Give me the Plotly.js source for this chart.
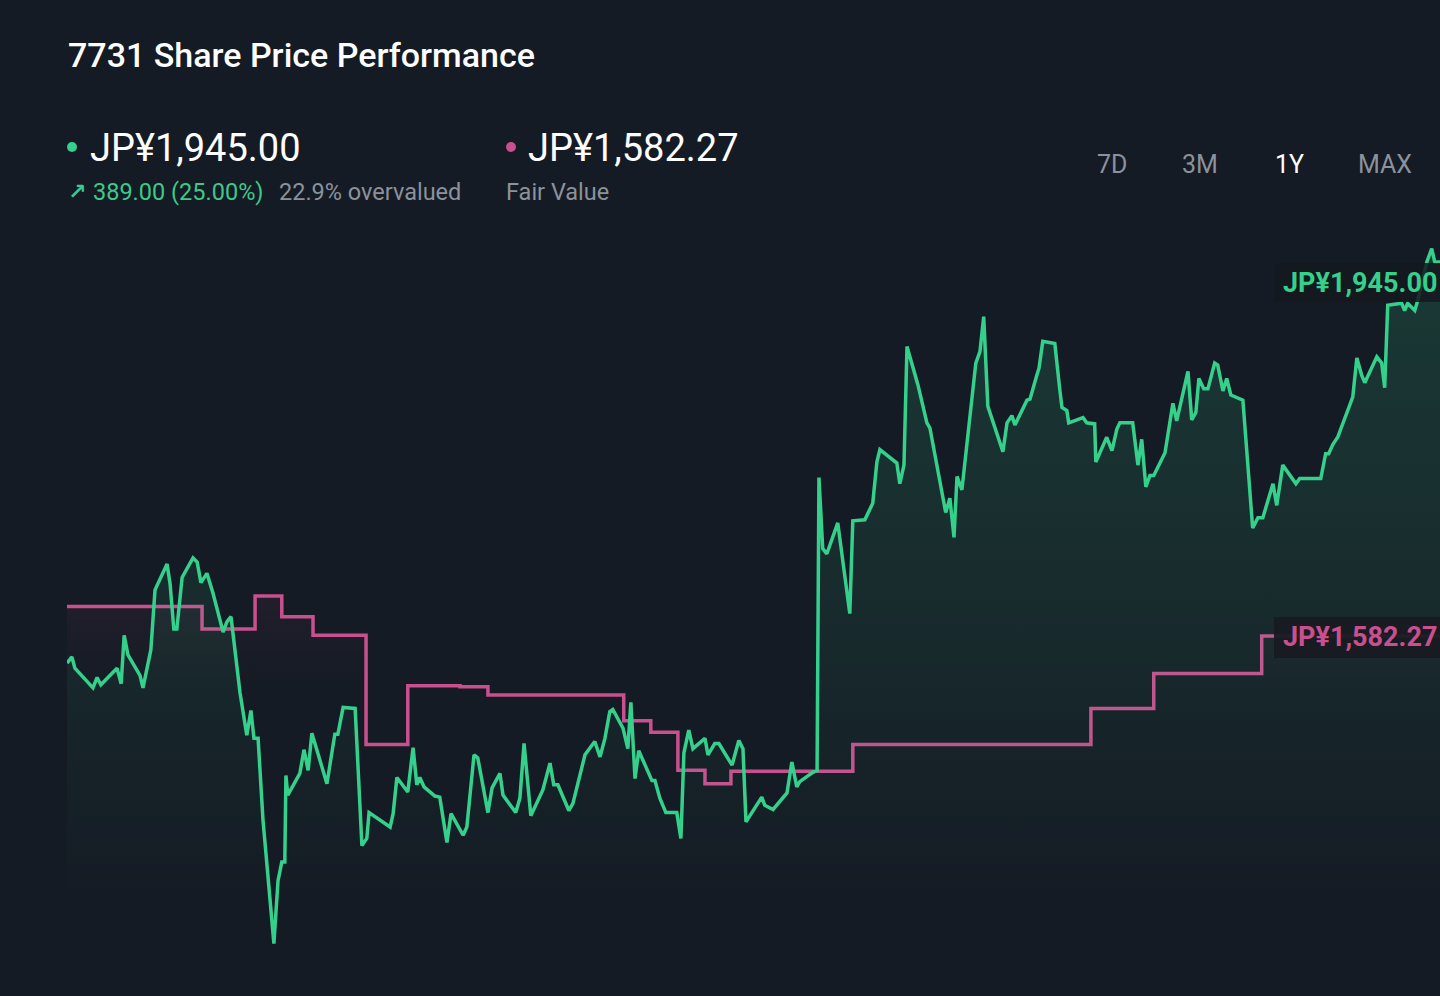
<!DOCTYPE html>
<html>
<head>
<meta charset="utf-8">
<script src="https://cdn.plot.ly/plotly-3.0.1.min.js"></script>
<style>
html,body{margin:0;padding:0;background:#151b24;overflow:hidden}
#chart{width:1440px;height:996px}
</style>
</head>
<body>
<div id="chart"></div>
<script>
// ---- data (days since start of the 1Y window, share price in JPY) ----
const priceDays = [
  0,1.3,2.1,6.9,8.0,9.0,13.3,14.4,15.2,16.2,
  19.4,20.2,22.3,23.4,26.6,27.4,28.4,29.2,30.6,33.5,
  34.6,35.6,37.2,38.8,41.5,42.5,43.6,44.1,45.2,46.0,
  47.8,48.9,49.7,50.8,52.1,55.0,56.1,57.1,57.9,58.2,
  58.7,61.9,63.0,64.1,65.1,69.1,71.2,72.0,73.4,76.6,
  78.4,79.7,80.3,85.9,86.7,87.7,90.6,92.0,93.0,93.8,
  94.9,97.8,99.1,101.0,102.1,105.3,106.3,108.2,109.2,111.9,
  113.0,115.1,115.9,119.3,120.4,121.5,123.3,126.5,128.4,129.4,
  130.5,133.4,134.5,137.7,140.3,141.7,143.0,144.3,145.1,147.8,
  149.1,149.9,151.0,152.0,155.5,156.3,157.6,159.2,162.1,163.2,
  164.0,165.3,166.4,169.6,170.4,172.2,173.3,176.8,178.6,179.7,
  180.5,184.7,185.5,187.7,191.4,192.7,194.0,194.8,198.3,199.4,
  199.9,200.9,202.0,204.9,208.1,208.9,212.1,214.2,215.3,216.1,
  220.6,221.4,222.5,223.3,226.2,228.6,229.4,233.6,234.7,235.8,
  236.6,237.9,241.6,242.7,243.7,244.8,248.8,249.9,251.2,252.0,
  255.2,256.0,257.8,258.4,259.4,262.6,263.9,264.5,265.8,266.3,
  270.1,271.1,273.2,273.5,276.4,277.8,279.1,279.9,283.3,284.7,
  285.7,286.8,287.9,288.9,291.9,294.0,295.0,298.0,299.0,300.1,
  300.9,302.2,303.3,305.1,305.9,307.3,308.3,309.4,312.6,315.2,
  316.6,317.9,320.6,321.6,323.2,326.7,327.7,333.3,334.6,335.4,
  336.5,337.8,341.8,342.9,344.2,345.0,348.2,349.5,350.3,351.1,
  354.8,355.6,356.4,358.3,359.1,361.5,362.8,363.6,366.3
];
const priceValues = [
  1556,1562,1551,1532,1542,1535,1551,1536,1583,1564,
  1544,1532,1569,1627,1652,1633,1589,1589,1639,1658,
  1654,1634,1643,1624,1586,1596,1601,1585,1546,1527,
  1486,1510,1483,1483,1404,1284,1345,1363,1363,1447,
  1428,1449,1472,1452,1488,1439,1487,1487,1513,1512,
  1379,1386,1411,1397,1410,1445,1431,1474,1438,1445,
  1436,1427,1426,1382,1410,1389,1397,1467,1464,1411,
  1435,1449,1428,1411,1425,1478,1408,1433,1459,1438,
  1438,1413,1420,1467,1480,1465,1483,1509,1511,1493,
  1473,1518,1444,1471,1442,1442,1425,1411,1411,1386,
  1469,1491,1473,1483,1467,1478,1478,1457,1481,1473,
  1402,1426,1418,1414,1430,1460,1436,1441,1450,1452,
  1736,1667,1662,1692,1604,1694,1695,1711,1751,1763,
  1750,1730,1748,1863,1826,1789,1784,1702,1716,1678,
  1737,1724,1847,1858,1892,1805,1761,1789,1796,1787,
  1811,1812,1835,1842,1868,1866,1822,1804,1801,1789,
  1794,1789,1788,1751,1775,1762,1783,1789,1789,1748,
  1773,1727,1738,1738,1760,1808,1791,1839,1792,1799,
  1832,1822,1822,1847,1845,1820,1832,1816,1811,1687,
  1697,1697,1730,1709,1748,1730,1735,1735,1759,1759,
  1768,1775,1814,1852,1835,1828,1853,1847,1823,1903,
  1905,1898,1905,1898,1908,1945,1958,1945,1945
];
const fairDays = [0,35.9,50.0,57.1,65.4,79.5,90.6,104.5,111.9,148.0,155.2,162.4,169.6,176.5,208.9,272.2,288.9,317.6,366.3];
const fairValues = [1611,1589,1621,1601,1583,1477,1534,1533,1525,1500,1489,1452,1439,1451,1477,1512,1546,1582.27,1582.27];

const titleText = '7731 Share Price Performance';
const lastPriceText = 'JP¥1,945.00';
const fairValueText = 'JP¥1,582.27';
const changeArrow = '↗';
const changeText = '389.00 (25.00%)';
const valuationText = '22.9% overvalued';
const fairLabel = 'Fair Value';
const rangeButtons = ['7D', '3M', '1Y', 'MAX'];
const activeButton = '1Y';

// ---- style ----
const W = 1440, H = 996;
const BG = '#151b24';
const GREEN = '#34d08c';
const PINK = '#c8508f';
const GRAY = '#8b929b';
const px = x => x / W;
const py = y => 1 - y / H;

const traces = [
  {
    x: fairDays, y: fairValues, type: 'scatter', mode: 'lines',
    line: {color: PINK, width: 3.5, shape: 'hv'},
    fill: 'tozeroy',
    fillgradient: {type: 'vertical', start: 1535, stop: 1625,
      colorscale: [[0, 'rgba(200,80,143,0)'], [1, 'rgba(200,80,143,0.07)']]},
    hoverinfo: 'skip'
  },
  {
    x: priceDays, y: priceValues, type: 'scatter', mode: 'lines',
    line: {color: GREEN, width: 3.5, shape: 'linear'},
    fill: 'tozeroy',
    fillgradient: {type: 'vertical', start: 1330, stop: 1960,
      colorscale: [[0, 'rgba(52,208,140,0)'], [0.35, 'rgba(52,208,140,0.07)'], [1, 'rgba(52,208,140,0.17)']]},
    hoverinfo: 'skip'
  }
];

const annotations = [
  {text: titleText, x: px(66), y: py(55), xanchor: 'left', yanchor: 'middle',
   font: {size: 34, color: '#ffffff', weight: 500}},
  {text: lastPriceText, x: px(88), y: py(148), xanchor: 'left', yanchor: 'middle',
   font: {size: 38, color: '#ffffff'}},
  {text: '<b>' + changeArrow + '</b>', x: px(66), y: py(192), xanchor: 'left', yanchor: 'middle',
   font: {size: 22, color: '#3cc98b', family: '"DejaVu Sans", sans-serif'}},
  {text: changeText, x: px(91), y: py(192), xanchor: 'left', yanchor: 'middle',
   font: {size: 23.5, color: '#3cc98b'}},
  {text: valuationText, x: px(277), y: py(192), xanchor: 'left', yanchor: 'middle',
   font: {size: 23.5, color: GRAY}},
  {text: fairValueText, x: px(526), y: py(148), xanchor: 'left', yanchor: 'middle',
   font: {size: 38, color: '#ffffff'}},
  {text: fairLabel, x: px(504), y: py(192), xanchor: 'left', yanchor: 'middle',
   font: {size: 23.5, color: GRAY}},
  {text: lastPriceText, x: px(1281), y: py(283), xanchor: 'left', yanchor: 'middle',
   font: {size: 27, color: GREEN, weight: 700}},
  {text: fairValueText, x: px(1281), y: py(637), xanchor: 'left', yanchor: 'middle',
   font: {size: 27, color: PINK, weight: 700}}
];
const buttonX = [1112, 1200, 1289, 1385];
rangeButtons.forEach((b, i) => {
  annotations.push({text: b, x: px(buttonX[i]), y: py(164), xanchor: 'center', yanchor: 'middle',
    font: {size: 25, color: b === activeButton ? '#ffffff' : GRAY}});
});
annotations.forEach(a => { a.xref = 'paper'; a.yref = 'paper'; a.showarrow = false; });

const shapes = [
  {type: 'circle', xref: 'paper', yref: 'paper', xsizemode: 'pixel', ysizemode: 'pixel',
   xanchor: px(72), yanchor: py(147), x0: -5, x1: 5, y0: -5, y1: 5,
   fillcolor: GREEN, line: {width: 0}},
  {type: 'circle', xref: 'paper', yref: 'paper', xsizemode: 'pixel', ysizemode: 'pixel',
   xanchor: px(511), yanchor: py(147), x0: -5, x1: 5, y0: -5, y1: 5,
   fillcolor: PINK, line: {width: 0}},
  {type: 'rect', xref: 'paper', yref: 'paper', layer: 'above',
   x0: px(1275), x1: px(1450), y0: py(302), y1: py(263),
   fillcolor: 'rgba(20,24,30,0.86)', line: {width: 0}},
  {type: 'rect', xref: 'paper', yref: 'paper', layer: 'above',
   x0: px(1274), x1: px(1450), y0: py(658), y1: py(617),
   fillcolor: 'rgba(24,27,33,0.94)', line: {width: 0}}
];

const layout = {
  width: W, height: H,
  paper_bgcolor: BG, plot_bgcolor: 'rgba(0,0,0,0)',
  margin: {l: 0, r: 0, t: 0, b: 0},
  showlegend: false,
  font: {family: 'Roboto, "Noto Sans", sans-serif'},
  xaxis: {domain: [67 / W, 1], range: [0, 365], visible: false, fixedrange: true},
  yaxis: {domain: [0, 781 / H], range: [1233.1, 1990.6], visible: false, fixedrange: true},
  annotations: annotations,
  shapes: shapes
};

Plotly.newPlot('chart', traces, layout, {displayModeBar: false, staticPlot: true});
</script>
</body>
</html>
